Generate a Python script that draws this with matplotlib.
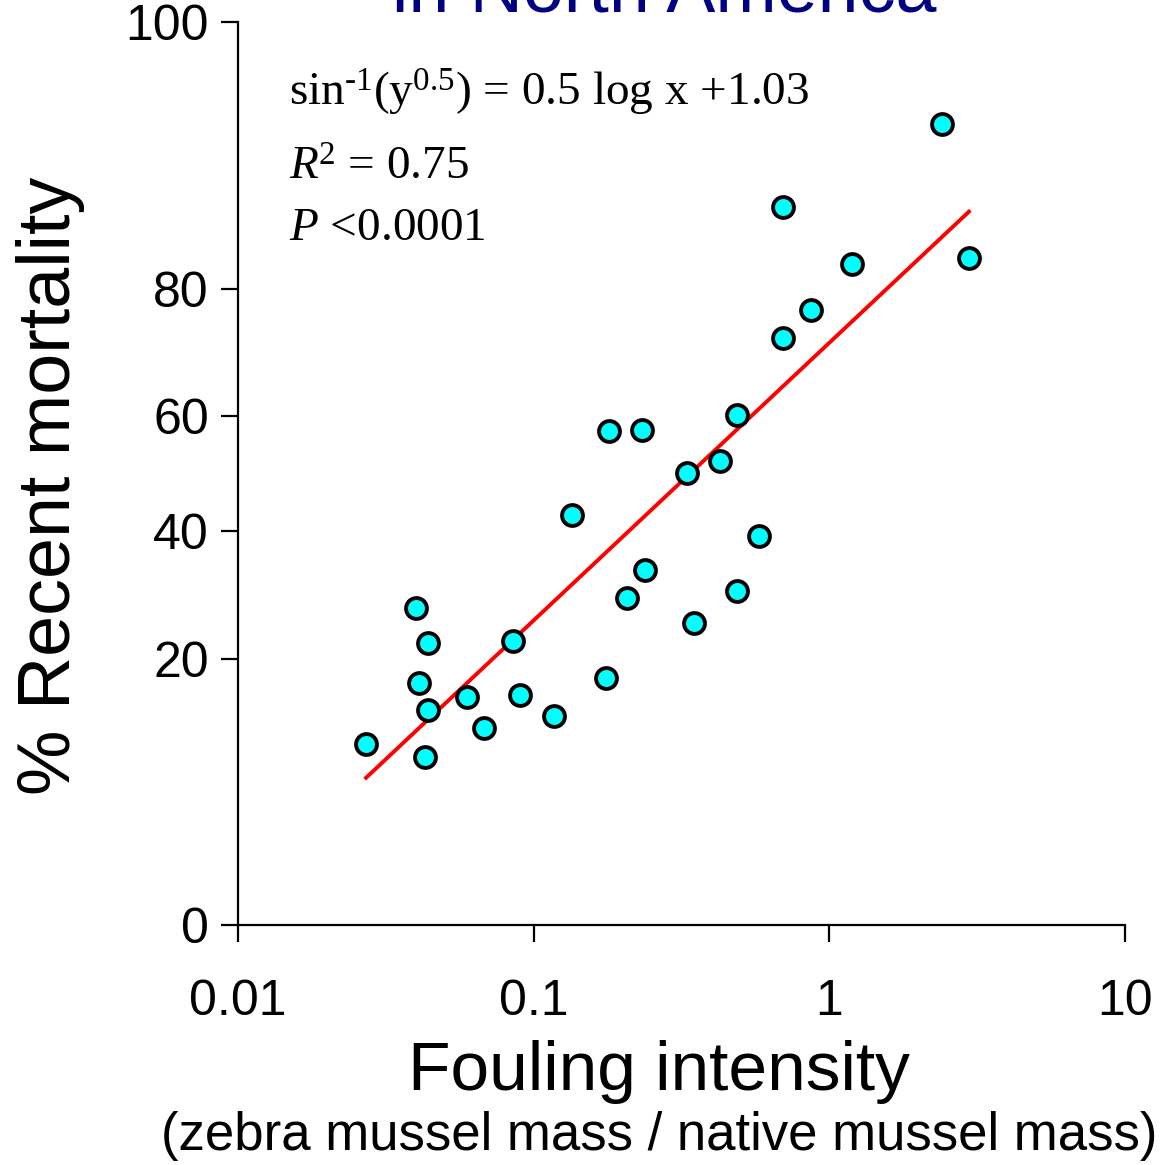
import numpy as np
import matplotlib
matplotlib.use("Agg")
import matplotlib.pyplot as plt

# ---- data ----
fouling = [0.0271, 0.0400, 0.0409, 0.0439, 0.0439, 0.0429, 0.0595, 0.0679, 0.0851, 0.0899,
           0.1171, 0.1347, 0.1756, 0.1798, 0.2324, 0.2068, 0.2379, 0.3299, 0.3485, 0.4266,
           0.4868, 0.4868, 0.578, 0.6967, 0.6967, 0.8667, 1.192, 2.403, 2.966]
mortality = [9.6, 27.5, 16.7, 22.2, 13.3, 8.3, 14.9, 11.3, 22.5, 15.2,
             12.6, 42.8, 17.4, 57.4, 57.5, 29.0, 33.5, 50.1, 25.1, 52.2,
             60.1, 30.1, 39.2, 72.7, 90.0, 76.9, 83.3, 96.9, 84.1]
fit_slope = 0.483      # radians per decade (as drawn)
fit_intercept = 1.013  # radians at x = 1 (as drawn)
x_ticks = [0.01, 0.1, 1, 10]
x_ticklabels = ["0.01", "0.1", "1", "10"]
y_ticks = [0, 20, 40, 60, 80, 100]

plt.rcParams['font.family'] = ['Liberation Sans', 'DejaVu Sans']
plt.rcParams['mathtext.fontset'] = 'custom'
plt.rcParams['mathtext.rm'] = 'Liberation Serif'
plt.rcParams['mathtext.it'] = 'Liberation Serif:italic'

def fwd(p):
    p = np.clip(np.asarray(p, dtype=float), 0, 100)
    return np.arcsin(np.sqrt(p / 100.0))

def inv(t):
    t = np.clip(np.asarray(t, dtype=float), 0, np.pi / 2)
    return 100.0 * np.sin(t) ** 2

fig = plt.figure(figsize=(11.64, 11.65), dpi=100)
ax = fig.add_axes([0.2045, 0.206, 0.762, 0.775])
ax.set_xscale('log')
ax.set_yscale('function', functions=(fwd, inv))
ax.set_xlim(0.01, 10)
ax.set_ylim(0, 100)

# regression line
xf = np.array([min(fouling), max(fouling)])
tf = fit_slope * np.log10(xf) + fit_intercept
ax.plot(xf, inv(tf), color='#ff0000', lw=2.8, zorder=2, clip_on=False)

ax.plot(fouling, mortality, 'o', ms=15, mfc='#00ffff', mec='black', mew=2.8,
        zorder=3, clip_on=False)

for s in ['top', 'right']:
    ax.spines[s].set_visible(False)
for s in ['left', 'bottom']:
    ax.spines[s].set_linewidth(1.6)

ax.set_xticks(x_ticks)
ax.set_xticklabels(x_ticklabels)
ax.xaxis.set_minor_locator(matplotlib.ticker.NullLocator())
ax.set_yticks(y_ticks)
ax.set_yticklabels([str(v) for v in y_ticks])
ax.yaxis.set_minor_locator(matplotlib.ticker.NullLocator())
ax.tick_params(axis='both', direction='out', length=12, width=1.6, labelsize=36)
ax.tick_params(axis='x', pad=27)
ax.tick_params(axis='y', pad=9)

# annotation text
serif = ['Liberation Serif', 'DejaVu Serif']
ax.text(0.057, 0.907, "sin$^{\\text{-}1}$(y$^{0.5}$) = 0.5 log x +1.03",
        transform=ax.transAxes, fontsize=34, family=serif, va='baseline')
ax.text(0.057, 0.826, "$R$$^{2}$ = 0.75", transform=ax.transAxes, fontsize=34,
        family=serif, va='baseline')
ax.text(0.057, 0.759, "$P$ <0.0001", transform=ax.transAxes, fontsize=34,
        family=serif, va='baseline')

# title (cut off at top)
fig.text(0.571, 0.9905, "in North America", color='#000080', fontsize=53,
         ha='center', va='baseline')

fig.text(0.043, 0.583, "% Recent mortality", rotation=90, fontsize=53,
         ha='center', va='center')
fig.text(0.566, 0.064, "Fouling intensity", fontsize=50, ha='center', va='baseline')
fig.text(0.566, 0.013, "(zebra mussel mass / native mussel mass)", fontsize=38,
         ha='center', va='baseline')

fig.savefig("out.png", dpi=100)
